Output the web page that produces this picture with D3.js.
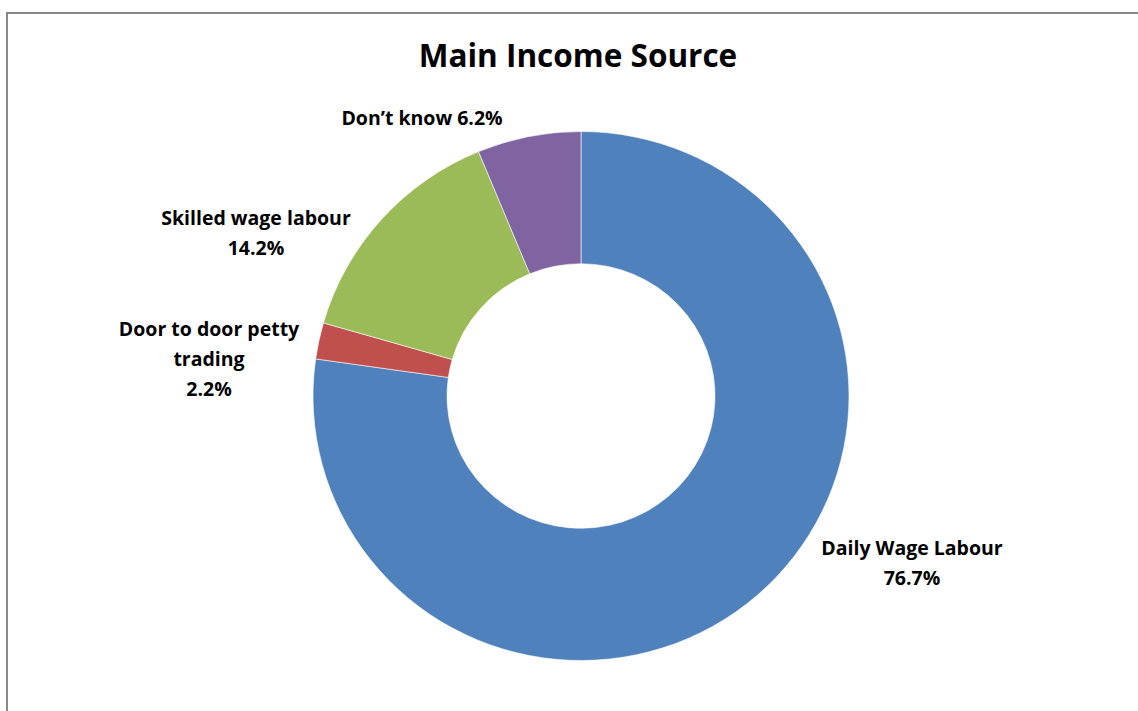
<!DOCTYPE html>
<html>
<head>
<meta charset="utf-8">
<script src="https://cdn.jsdelivr.net/npm/d3@7"></script>
<style>
  html, body { margin: 0; padding: 0; background: #fff; }
  svg { display: block; }
  text { font-family: "Open Sans", Lato, sans-serif; font-weight: bold; fill: #000; }
</style>
</head>
<body>
<svg id="chart" width="1138" height="711"></svg>
<script>
// Income sources, in clockwise order from 12 o'clock
const categories = ["Daily Wage Labour", "Door to door petty trading", "Skilled wage labour", "Don\u2019t know"];
const values = [76.7, 2.2, 14.2, 6.2];
const colors = ["#4F81BD", "#C0504D", "#9BBB59", "#8064A2"];
// Label text lines for each slice
const labelLines = [
  ["Daily Wage Labour", "76.7%"],
  ["Door to door petty", "trading", "2.2%"],
  ["Skilled wage labour", "14.2%"],
  ["Don\u2019t know 6.2%"]
];

const W = 1138, H = 711;
const cx = 581, cy = 396;
const rOuter = 268, rInner = 134;
const yScale = 264.5 / 268;

// Label anchor positions (centre of the text block, first baseline)
const labelPos = [
  { x: 912, y: 555 },
  { x: 209, y: 336 },
  { x: 256, y: 225 },
  { x: 422, y: 125 }
];

const svg = d3.select("#chart");

// Chart frame
svg.append("rect")
  .attr("x", 7).attr("y", 13)
  .attr("width", 1400).attr("height", 900)
  .attr("fill", "#fff")
  .attr("stroke", "#888888")
  .attr("stroke-width", 2);

// Title
svg.append("text")
  .attr("x", 578).attr("y", 67)
  .attr("text-anchor", "middle")
  .attr("font-size", 31.5)
  .text("Main Income Source");

const data = categories.map((c, i) => ({ name: c, value: values[i], color: colors[i], lines: labelLines[i], pos: labelPos[i] }));

const pie = d3.pie().sort(null).value(d => d.value).startAngle(0).endAngle(2 * Math.PI);
const arc = d3.arc().innerRadius(rInner).outerRadius(rOuter);

const g = svg.append("g")
  .attr("transform", `translate(${cx},${cy}) scale(1,${yScale})`);

g.selectAll("path")
  .data(pie(data))
  .join("path")
  .attr("d", arc)
  .attr("fill", d => d.data.color)
  .attr("stroke", "#fff")
  .attr("stroke-width", 0.6);

// Slice labels
const labels = svg.selectAll("text.slice-label")
  .data(data)
  .join("text")
  .attr("class", "slice-label")
  .attr("text-anchor", "middle")
  .attr("font-size", 19.5)
  .attr("x", d => d.pos.x)
  .attr("y", d => d.pos.y);

labels.selectAll("tspan")
  .data(d => d.lines.map((l, i) => ({ l, i, x: d.pos.x })))
  .join("tspan")
  .attr("x", d => d.x)
  .attr("dy", d => d.i === 0 ? 0 : 30)
  .text(d => d.l);
</script>
</body>
</html>
